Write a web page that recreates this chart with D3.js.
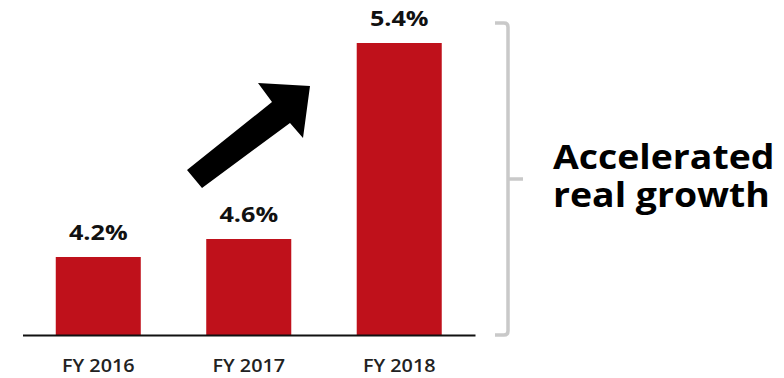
<!DOCTYPE html>
<html>
<head>
<meta charset="utf-8">
<script src="https://cdn.jsdelivr.net/npm/d3@7"></script>
<style>
  html, body { margin: 0; padding: 0; background: #ffffff; }
  svg { display: block; font-family: "Open Sans", "Noto Sans", sans-serif; }
</style>
</head>
<body>
<svg id="chart" width="784" height="378"></svg>
<script>
// Real growth by fiscal year
const categories = ["FY 2016", "FY 2017", "FY 2018"];
const growth = [4.2, 4.6, 5.4];
const valueLabels = ["4.2%", "4.6%", "5.4%"];
const calloutLines = ["Accelerated", "real growth"];

const W = 784, H = 378;
const baseline = 335, plotTop = 43;
const barColor = "#bf111b";
const stretch = 1.1; // slightly wide lettering

const svg = d3.select("#chart");

// Category positions
const x = d3.scaleBand()
  .domain(categories)
  .range([22.5, 475])
  .paddingInner(0.435)
  .paddingOuter(0.221);

// Emphasis scale: an exponential transform makes the acceleration stand out
const rate = 2.608, pivot = 4.2, floorT = -6.97;
const emph = v => Math.exp(rate * (v - pivot));
const y = d3.scaleLinear()
  .domain([floorT, emph(d3.max(growth))])
  .range([baseline, plotTop]);

const data = categories.map((c, i) => ({ cat: c, v: growth[i], label: valueLabels[i] }));

// Bars
svg.append("g")
  .selectAll("rect")
  .data(data)
  .join("rect")
  .attr("x", d => x(d.cat))
  .attr("y", d => y(emph(d.v)))
  .attr("width", x.bandwidth())
  .attr("height", d => baseline - y(emph(d.v)))
  .attr("fill", barColor);

// Value labels
svg.append("g")
  .selectAll("text")
  .data(data)
  .join("text")
  .attr("transform", d => `translate(${x(d.cat) + x.bandwidth() / 2},${y(emph(d.v)) - 17}) scale(1.2,1)`)
  .attr("text-anchor", "middle")
  .attr("font-size", 21)
  .attr("font-weight", 700)
  .attr("fill", "#111")
  .text(d => d.label);

// Category axis
const axis = svg.append("g")
  .attr("transform", `translate(0,${baseline})`)
  .call(d3.axisBottom(x).tickSize(0).tickPadding(24).tickSizeOuter(0));
axis.select(".domain").attr("stroke", "#111").attr("stroke-width", 2);
axis.selectAll("text")
  .attr("font-family", "'Open Sans', sans-serif")
  .attr("font-size", 18)
  .attr("font-weight", 600)
  .attr("fill", "#222")
  .attr("transform", `scale(${stretch},1)`);

// Upward arrow between the first two bars and the last one
const arrowPts = [[187, 170], [272, 102], [258, 83], [310, 86], [303, 138], [290, 123], [202, 188]];
svg.append("path")
  .attr("d", d3.line()(arrowPts) + "Z")
  .attr("fill", "#000");

// Bracket spanning the chart height
const bx = 508, bTop = 23, bBot = 335, bMid = (bTop + bBot) / 2;
svg.append("path")
  .attr("d", `M495,${bTop} H${bx - 4} Q${bx},${bTop} ${bx},${bTop + 4} V${bBot - 4} Q${bx},${bBot} ${bx - 4},${bBot} H495 M${bx},${bMid} H523`)
  .attr("fill", "none")
  .attr("stroke", "#c9c9c9")
  .attr("stroke-width", 3.5);

// Callout text, one block with a line per entry
svg.append("text")
  .attr("transform", `translate(553,169) scale(${stretch},1)`)
  .attr("font-size", 34)
  .attr("font-weight", 700)
  .attr("fill", "#000")
  .selectAll("tspan")
  .data(calloutLines)
  .join("tspan")
  .attr("x", 0)
  .attr("dy", (d, i) => i === 0 ? 0 : 38)
  .text(d => d);
</script>
</body>
</html>
